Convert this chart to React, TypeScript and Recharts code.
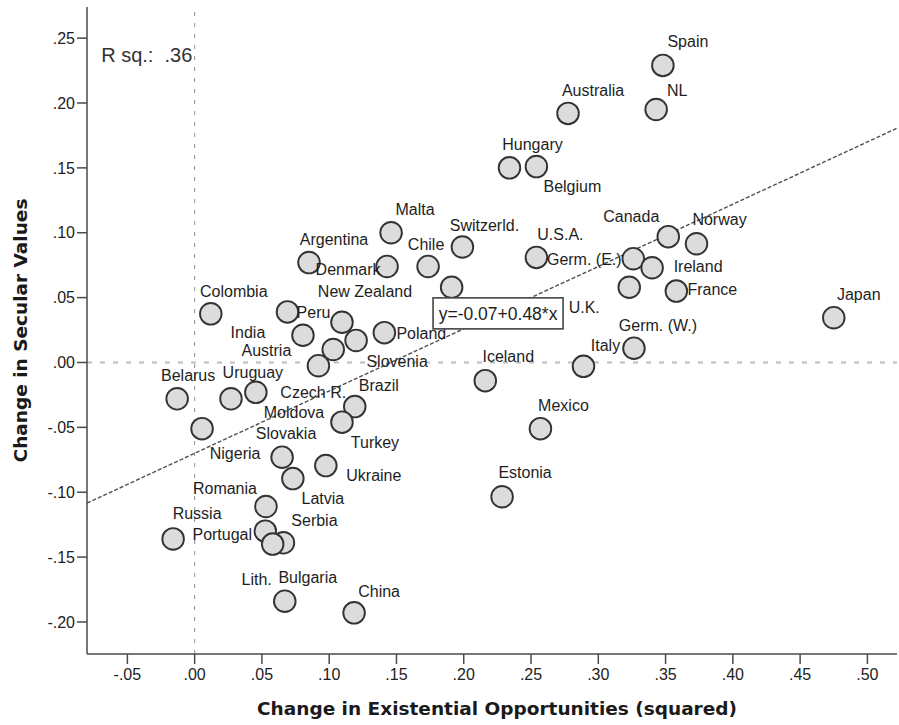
import {
  ScatterChart,
  Scatter,
  XAxis,
  YAxis,
  ReferenceLine,
  ReferenceDot,
  Label,
} from "recharts";

// countries, in drawing order
const countries = [
  "Spain", "NL", "Australia", "Hungary", "Belgium", "Malta", "Switzerld.",
  "Argentina", "Chile", "Denmark", "U.S.A.", "Canada", "Norway", "Germ. (E.)",
  "Ireland", "U.K.", "France", "Japan", "Germ. (W.)", "Italy", "Iceland",
  "Mexico", "Estonia", "China", "Colombia", "Peru", "New Zealand", "India",
  "Poland", "Slovenia", "Austria", "Czech R.", "Belarus", "Uruguay", "Moldova",
  "Brazil", "Turkey", "Slovakia", "Nigeria", "Latvia", "Ukraine", "Romania",
  "Russia", "Portugal", "Serbia", "Lith.", "Bulgaria", "",
];

// change in existential opportunities (squared)
const opportunities = [
  0.348, 0.343, 0.2775, 0.234, 0.254, 0.146, 0.199,
  0.085, 0.1735, 0.143, 0.254, 0.352, 0.373, 0.326,
  0.340, 0.323, 0.358, 0.475, 0.3265, 0.289, 0.216,
  0.257, 0.2285, 0.1185, 0.012, 0.069, 0.1095, 0.0805,
  0.141, 0.120, 0.092, 0.103, -0.013, 0.0455, 0.027,
  0.119, 0.1095, 0.0055, 0.065, 0.073, 0.0975, 0.053,
  -0.016, 0.0525, 0.066, 0.058, 0.067, 0.191,
];

// change in secular values
const secular = [
  0.229, 0.195, 0.192, 0.150, 0.151, 0.100, 0.089,
  0.077, 0.074, 0.074, 0.081, 0.097, 0.0915, 0.080,
  0.073, 0.058, 0.055, 0.0345, 0.011, -0.003, -0.014,
  -0.051, -0.1035, -0.193, 0.0375, 0.039, 0.031, 0.021,
  0.023, 0.017, -0.0025, 0.010, -0.028, -0.023, -0.028,
  -0.034, -0.046, -0.051, -0.073, -0.0895, -0.0795, -0.111,
  -0.136, -0.130, -0.139, -0.140, -0.184, 0.058,
];

const xTicks = [-0.05, 0, 0.05, 0.1, 0.15, 0.2, 0.25, 0.3, 0.35, 0.4, 0.45, 0.5];
const yTicks = [-0.2, -0.15, -0.1, -0.05, 0, 0.05, 0.1, 0.15, 0.2, 0.25];

// fit line
const intercept = -0.07;
const slope = 0.48;
const rSquared = ".36";

const xDomain: [number, number] = [-0.08, 0.522];
const yDomain: [number, number] = [-0.2247, 0.274];

// where each country label sits, relative to its marker (px)
const labelOffsets: Record<string, [number, number]> = {
  "Spain": [25, -24], "NL": [21, -19], "Australia": [25, -23], "Hungary": [23, -23],
  "Belgium": [36, 20], "Malta": [24, -23], "Switzerld.": [22, -22], "Argentina": [25, -23],
  "Chile": [-2, -22], "Denmark": [-39, 3], "U.S.A.": [24, -23], "Canada": [-37, -20],
  "Norway": [23, -24], "Germ. (E.)": [-49, 1], "Ireland": [46, -1], "U.K.": [-45, 20],
  "France": [36, -2], "Japan": [25, -23], "Germ. (W.)": [24, -23], "Italy": [22, -21],
  "Iceland": [23, -24], "Mexico": [23, -23], "Estonia": [23, -24], "China": [25, -21],
  "Colombia": [23, -22], "Peru": [26, 1], "New Zealand": [23, -31], "India": [-55, -3],
  "Poland": [37, 1], "Slovenia": [41, 21], "Austria": [-52, -15], "Czech R.": [-20, 43],
  "Belarus": [11, -23], "Uruguay": [-3, -20], "Moldova": [63, 14], "Brazil": [24, -21],
  "Turkey": [33, 20], "Slovakia": [84, 5], "Nigeria": [-47, -4], "Latvia": [30, 20],
  "Ukraine": [48, 10], "Romania": [-41, -18], "Russia": [24, -25], "Portugal": [-43, 3],
  "Serbia": [31, -22], "Lith.": [-16, 35], "Bulgaria": [23, -24],
};

const points = countries.map((name, i) => ({
  name,
  x: opportunities[i],
  y: secular[i],
}));

const SANS = "'Liberation Sans', Arial, sans-serif";
const TITLE = "'DejaVu Sans', Verdana, sans-serif";
const AXIS = "#4a4a4a";

const fmt = (v: number) => {
  const s = Math.abs(v).toFixed(2).replace(/^0/, "");
  return v < 0 ? "-" + s : s;
};

const Marker = (props: any) => {
  const { cx, cy } = props;
  if (cx == null || cy == null) return null;
  return <circle cx={cx} cy={cy} r={10.8} fill="#dcdcdc" stroke="#333" strokeWidth={1.9} />;
};

const CountryLabel = (props: any) => {
  const { cx, cy, payload } = props;
  const off = payload && labelOffsets[payload.name];
  if (!off || cx == null) return null;
  return (
    <text
      x={cx + off[0]}
      y={cy + off[1]}
      textAnchor="middle"
      dominantBaseline="central"
      fontFamily={SANS}
      fontSize={16}
      fill="#1e1e1e"
    >
      {payload.name}
    </text>
  );
};

const EquationBox = (props: any) => {
  const { cx, cy } = props;
  return (
    <g>
      <rect x={cx - 65} y={cy - 15} width={130} height={31} fill="#fff" stroke="#444" strokeWidth={1.6} />
      <text x={cx} y={cy + 1} textAnchor="middle" dominantBaseline="central" fontFamily={SANS} fontSize={17.5} fill="#1e1e1e">
        {`y=${intercept.toFixed(2)}+${slope.toFixed(2)}*x`}
      </text>
    </g>
  );
};

const RsqText = (props: any) => {
  const { cx, cy } = props;
  return (
    <text x={cx} y={cy} dominantBaseline="central" fontFamily={SANS} fontSize={20} fill="#333">
      {`R sq.:\u00a0 ${rSquared}`}
    </text>
  );
};

export default function App() {
  const eqX = 0.2255;
  return (
    <div style={{ position: "absolute", left: 0, top: 0, background: "#fff" }}>
      <ScatterChart width={899} height={725} margin={{ top: 7, right: 2, bottom: 0, left: 0 }}>
        <XAxis
          type="number"
          dataKey="x"
          domain={xDomain}
          ticks={xTicks}
          tickFormatter={fmt}
          allowDataOverflow
          height={71}
          tickSize={10}
          tickMargin={5}
          axisLine={{ stroke: AXIS, strokeWidth: 1.5 }}
          tickLine={{ stroke: AXIS, strokeWidth: 1.5 }}
          tick={{ fontFamily: SANS, fontSize: 16, fill: "#222" }}
        >
          <Label
            content={(p: any) => {
              const vb = p.viewBox;
              return (
                <text
                  x={vb.x + vb.width / 2 + 5}
                  y={vb.y + 54}
                  textAnchor="middle"
                  dominantBaseline="central"
                  fontFamily={TITLE}
                  fontWeight="bold"
                  fontSize={18.5}
                  fill="#1a1a1a"
                >
                  Change in Existential Opportunities (squared)
                </text>
              );
            }}
          />
        </XAxis>
        <YAxis
          type="number"
          dataKey="y"
          domain={yDomain}
          ticks={yTicks}
          tickFormatter={fmt}
          allowDataOverflow
          width={87}
          tickSize={10}
          tickMargin={2}
          axisLine={{ stroke: AXIS, strokeWidth: 1.5 }}
          tickLine={{ stroke: AXIS, strokeWidth: 1.5 }}
          tick={{ fontFamily: SANS, fontSize: 16, fill: "#222" }}
        >
          <Label
            content={(p: any) => {
              const vb = p.viewBox;
              const cx = 20;
              const cy = vb.y + vb.height / 2;
              return (
                <text
                  x={cx}
                  y={cy}
                  transform={`rotate(-90 ${cx} ${cy})`}
                  textAnchor="middle"
                  dominantBaseline="central"
                  fontFamily={TITLE}
                  fontWeight="bold"
                  fontSize={18.5}
                  fill="#1a1a1a"
                >
                  Change in Secular Values
                </text>
              );
            }}
          />
        </YAxis>

        <ReferenceLine x={0} stroke="#8c8c8c" strokeDasharray="4 7" />
        <ReferenceLine y={0} stroke="#bdbdbd" strokeWidth={2} strokeDasharray="5 8" />

        <Scatter data={points} shape={Marker} isAnimationActive={false} />

        <ReferenceLine
          segment={[
            { x: xDomain[0], y: intercept + slope * xDomain[0] },
            { x: xDomain[1], y: intercept + slope * xDomain[1] },
          ]}
          stroke="#505050"
          strokeWidth={1.4}
          strokeDasharray="4 2"
          ifOverflow="visible"
        />

        <Scatter data={points} shape={CountryLabel} isAnimationActive={false} />

        <ReferenceDot x={eqX} y={intercept + slope * eqX} shape={EquationBox} ifOverflow="visible" />
        <ReferenceDot x={-0.0695} y={0.237} shape={RsqText} ifOverflow="visible" />
      </ScatterChart>
    </div>
  );
}
